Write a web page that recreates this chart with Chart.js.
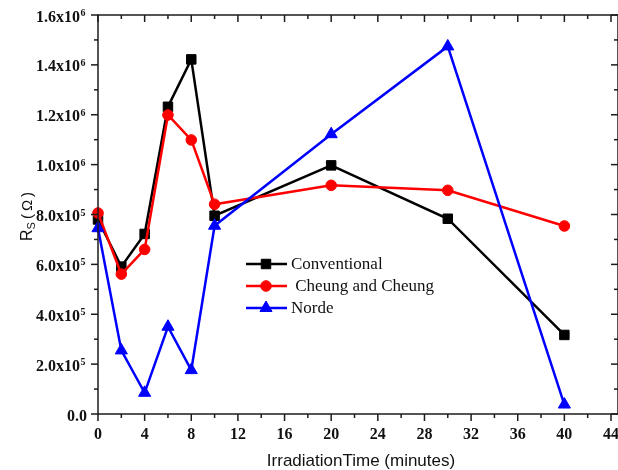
<!DOCTYPE html>
<html>
<head>
<meta charset="utf-8">
<script src="https://cdn.jsdelivr.net/npm/chart.js@4"></script>
<style>
  html, body { margin: 0; padding: 0; background: #fff; overflow: hidden; }
  #c { display: block; }
</style>
</head>
<body>
<canvas id="c" width="618" height="470"></canvas>
<script>
// Series resistance versus irradiation time, three extraction methods
const timeMinutes = [0, 2, 4, 6, 8, 10, 20, 30, 40];
const conventional = [780000, 591000, 722000, 1232000, 1422000, 795000, 997000, 783000, 317000];
const cheungAndCheung = [806000, 561000, 660000, 1199000, 1099000, 841000, 917000, 897000, 754000];
const norde = [745000, 255000, 85000, 350000, 176000, 755000, 1122000, 1474000, 38000];

const seriesNames = ['Conventional', ' Cheung and Cheung', 'Norde'];

// Axis ticks
const xTickValues = [0, 4, 8, 12, 16, 20, 24, 28, 32, 36, 40, 44];
const yTickValues = [0, 200000, 400000, 600000, 800000, 1000000, 1200000, 1400000, 1600000];
const yTickBase = ['0.0', '2.0x10', '4.0x10', '6.0x10', '8.0x10', '1.0x10', '1.2x10', '1.4x10', '1.6x10'];
const yTickExp = ['', '5', '5', '5', '5', '6', '6', '6', '6'];

const xTitle = 'IrradiationTime (minutes)';

const toPoints = (vals) => vals.map((v, i) => ({ x: timeMinutes[i], y: v }));

function tickLine(ctx, x1, y1, x2, y2) {
  ctx.beginPath();
  ctx.moveTo(x1, y1);
  ctx.lineTo(x2, y2);
  ctx.stroke();
}

// Boxed axes: outward ticks on left/bottom, inward ticks on top/right
const framePlugin = {
  id: 'frame',
  afterDatasetsDraw(chart) {
    const { ctx, chartArea: a, scales: { x, y } } = chart;
    ctx.save();
    ctx.strokeStyle = '#1c1c1c';
    ctx.lineWidth = 1.5;
    ctx.beginPath();
    ctx.moveTo(a.left, a.top);
    ctx.lineTo(a.left, a.bottom);
    ctx.lineTo(a.right, a.bottom);
    ctx.lineTo(a.right, a.top);
    ctx.closePath();
    ctx.stroke();

    const major = 7, minor = 4;
    // x ticks (major + midpoints)
    xTickValues.forEach((v, i) => {
      const px = x.getPixelForValue(v);
      tickLine(ctx, px, a.bottom, px, a.bottom + major);
      tickLine(ctx, px, a.top, px, a.top + major);
      if (i < xTickValues.length - 1) {
        const m = x.getPixelForValue((v + xTickValues[i + 1]) / 2);
        tickLine(ctx, m, a.bottom, m, a.bottom + minor);
        tickLine(ctx, m, a.top, m, a.top + minor);
      }
    });
    // y ticks
    yTickValues.forEach((v, i) => {
      const py = y.getPixelForValue(v);
      tickLine(ctx, a.left, py, a.left - major, py);
      tickLine(ctx, a.right, py, a.right - major, py);
      if (i < yTickValues.length - 1) {
        const m = y.getPixelForValue((v + yTickValues[i + 1]) / 2);
        tickLine(ctx, a.left, m, a.left - minor, m);
        tickLine(ctx, a.right, m, a.right - minor, m);
      }
    });

    ctx.fillStyle = '#111';
    // x tick labels
    ctx.font = 'bold 16px "Liberation Serif"';
    ctx.textAlign = 'center';
    ctx.textBaseline = 'alphabetic';
    xTickValues.forEach((v) => {
      ctx.fillText(String(v), x.getPixelForValue(v), a.bottom + 25);
    });

    // y tick labels with superscript exponent
    ctx.textAlign = 'left';
    yTickValues.forEach((v, i) => {
      const py = y.getPixelForValue(v);
      ctx.font = 'bold 16px "Liberation Serif"';
      const wBase = ctx.measureText(yTickBase[i]).width;
      let wExp = 0;
      if (yTickExp[i]) {
        ctx.font = 'bold 10px "Liberation Serif"';
        wExp = ctx.measureText(yTickExp[i]).width;
      }
      const right = a.left - (yTickExp[i] ? 13 : 11);
      const x0 = right - wBase - wExp;
      ctx.font = 'bold 16px "Liberation Serif"';
      ctx.fillText(yTickBase[i], x0, py + 6.5);
      if (yTickExp[i]) {
        ctx.font = 'bold 10px "Liberation Serif"';
        ctx.fillText(yTickExp[i], x0 + wBase + 0.5, py + 1);
      }
    });

    // axis titles
    ctx.fillStyle = '#111';
    ctx.font = '17px "Liberation Sans"';
    ctx.textAlign = 'center';
    ctx.fillText(xTitle, 361, a.bottom + 52);

    ctx.save();
    ctx.translate(31.5, 241);
    ctx.rotate(-Math.PI / 2);
    ctx.textAlign = 'left';
    ctx.font = '16px "Liberation Sans"';
    ctx.fillText('R', 0, 0);
    const wR = ctx.measureText('R').width;
    ctx.font = '11px "Liberation Sans"';
    ctx.fillText('S', wR, 3);
    const wS = ctx.measureText('S').width;
    ctx.font = '15px "Liberation Sans"';
    ctx.fillText('\u2009(\u2009\u03A9\u2009)', wR + wS, 0);
    ctx.restore();

    // legend
    const lx0 = 246, lx1 = 287, ly0 = 264, step = 22;
    chart.data.datasets.forEach((ds, i) => {
      const ly = ly0 + i * step;
      ctx.strokeStyle = ds.borderColor;
      ctx.lineWidth = ds.borderWidth;
      tickLine(ctx, lx0, ly, lx1, ly);
      ctx.fillStyle = ds.pointBackgroundColor;
      ctx.strokeStyle = ds.pointBorderColor;
      ctx.lineWidth = ds.pointBorderWidth;
      Chart.helpers.drawPoint(ctx, {
        pointStyle: ds.pointStyle, radius: ds.pointRadius, rotation: 0, borderWidth: ds.pointBorderWidth
      }, (lx0 + lx1) / 2 - 0.5, ly);
      ctx.fillStyle = '#111';
      ctx.font = '17px "Liberation Serif"';
      ctx.textAlign = 'left';
      ctx.textBaseline = 'middle';
      ctx.fillText(ds.label, 291, ly + 1);
      ctx.textBaseline = 'alphabetic';
    });
    ctx.restore();
  }
};

function series(label, data, color, style, radius, order) {
  return {
    label,
    data: toPoints(data),
    borderColor: color,
    backgroundColor: color,
    borderWidth: 2.5,
    pointStyle: style,
    pointRadius: radius,
    pointHoverRadius: radius,
    pointBackgroundColor: color,
    pointBorderColor: color,
    pointBorderWidth: 1,
    tension: 0,
    clip: false,
    order
  };
}

new Chart(document.getElementById('c'), {
  type: 'line',
  data: {
    datasets: [
      series(seriesNames[0], conventional, '#000000', 'rect', 6.7, 3),
      series(seriesNames[1], cheungAndCheung, '#ff0000', 'circle', 5.3, 2),
      series(seriesNames[2], norde, '#0000ff', 'triangle', 7, 1)
    ]
  },
  plugins: [framePlugin],
  options: {
    responsive: false,
    animation: false,
    devicePixelRatio: 1,
    layout: { autoPadding: false, padding: { left: 98, top: 15, right: -1, bottom: 56 } },
    plugins: { legend: { display: false }, tooltip: { enabled: false } },
    scales: {
      x: { type: 'linear', min: 0, max: 44.6, display: false },
      y: { type: 'linear', min: 0, max: 1600000, display: false }
    }
  }
});
</script>
</body>
</html>
